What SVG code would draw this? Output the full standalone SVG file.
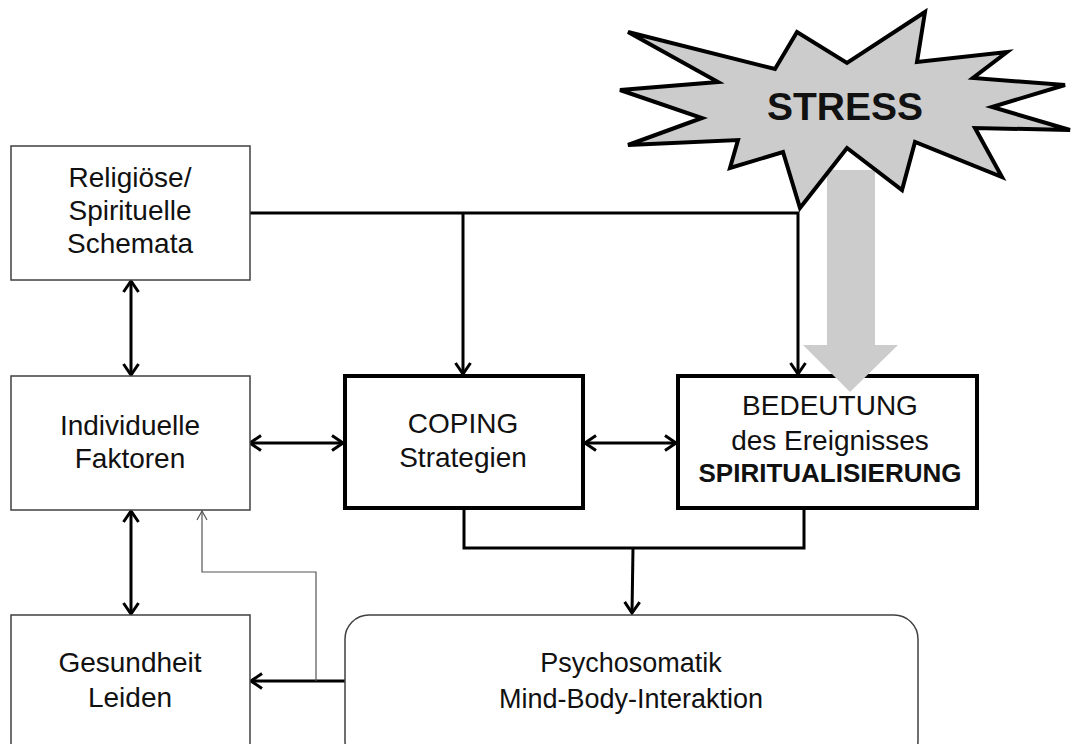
<svg xmlns="http://www.w3.org/2000/svg" width="1071" height="744" viewBox="0 0 1071 744">
<style>
text{font-family:"Liberation Sans",Arial,sans-serif;fill:#111;text-anchor:middle}
.t{font-size:28px}
.p{font-size:27px}
.b{font-weight:bold}
.thin{fill:#fff;stroke:#404040;stroke-width:1.5}
.thick{fill:#fff;stroke:#000;stroke-width:4}
.c{fill:none;stroke:#000;stroke-width:3}
.g{fill:none;stroke:#555;stroke-width:1.2}
</style>
<defs>
<marker id="ah" viewBox="-13 -9 15 18" refX="0" refY="0" markerWidth="15" markerHeight="18" markerUnits="userSpaceOnUse" orient="auto-start-reverse">
<path d="M-11,-7.5 L0,0 L-11,7.5" fill="none" stroke="#000" stroke-width="3" stroke-linejoin="miter"/>
</marker>
<marker id="ahThin" viewBox="-11 -7 12 14" refX="0" refY="0" markerWidth="12" markerHeight="14" markerUnits="userSpaceOnUse" orient="auto">
<path d="M-9,-5 L0,0 L-9,5" fill="none" stroke="#555" stroke-width="1.2"/>
</marker>
</defs>

<g id="stress-arrow">
<rect x="827" y="170" width="48" height="176" fill="#cccccc"/>
</g>
<g id="stress">
<polygon points="628,32 775,69 797,32 847,63 925,12 917,62 1007,52 973,78 1065,85 992,107 1070,130 975,128 1002,177 915,142 902,190 847,148 800,208 783,152 730,168 738,140 628,145 702,118 620,90 718,82" fill="#cccccc" stroke="#000" stroke-width="4" stroke-linejoin="miter"/>
<text x="845" y="120" class="b" style="font-size:39px">STRESS</text>
</g>

<g id="connectors">
<polyline class="c" points="249,213 798,213 798,374" marker-end="url(#ah)"/>
<line class="c" x1="463" y1="213" x2="463" y2="374" marker-end="url(#ah)"/>
<line class="c" x1="131" y1="281" x2="131" y2="375" marker-start="url(#ah)" marker-end="url(#ah)"/>
<line class="c" x1="131" y1="511" x2="131" y2="614" marker-start="url(#ah)" marker-end="url(#ah)"/>
<line class="c" x1="250" y1="443" x2="343" y2="443" marker-start="url(#ah)" marker-end="url(#ah)"/>
<line class="c" x1="585" y1="443" x2="676" y2="443" marker-start="url(#ah)" marker-end="url(#ah)"/>
<polyline class="c" points="464,510 464,548 804,548 804,510"/>
<line class="c" x1="633" y1="548" x2="632" y2="613" marker-end="url(#ah)"/>
<line class="c" x1="345" y1="681" x2="251" y2="681" marker-end="url(#ah)"/>
<polyline class="g" points="316,681 316,572 202,572 202,511" marker-end="url(#ahThin)"/>
</g>

<g id="religioese">
<rect class="thin" x="11" y="146" width="239" height="134"/>
<text class="t" x="130" y="187">Religiöse/</text>
<text class="t" x="130" y="220">Spirituelle</text>
<text class="t" x="130" y="253">Schemata</text>
</g>
<g id="individuelle">
<rect class="thin" x="11" y="376" width="239" height="134"/>
<text class="t" x="130" y="435">Individuelle</text>
<text class="t" x="130" y="468">Faktoren</text>
</g>
<g id="gesundheit">
<rect class="thin" x="11" y="615" width="239" height="140"/>
<text class="t" x="130" y="672">Gesundheit</text>
<text class="t" x="130" y="707">Leiden</text>
</g>
<g id="coping">
<rect class="thick" x="345" y="376" width="238" height="132"/>
<text class="t" x="463" y="433">COPING</text>
<text class="t" x="463" y="467">Strategien</text>
</g>
<g id="bedeutung">
<rect class="thick" x="678" y="376" width="299" height="132"/>
<text class="t" x="830" y="415">BEDEUTUNG</text>
<text class="t" x="830" y="450">des Ereignisses</text>
<text class="b" style="font-size:26px" x="830" y="482">SPIRITUALISIERUNG</text>
</g>
<g id="stress-arrowhead">
<polygon points="803,345 898,345 850,392" fill="#cccccc"/>
</g>
<g id="psychosomatik">
<rect class="thin" x="345" y="615" width="573" height="150" rx="24" ry="24"/>
<text class="p" x="631" y="672">Psychosomatik</text>
<text class="p" x="631" y="708">Mind-Body-Interaktion</text>
</g>
</svg>
